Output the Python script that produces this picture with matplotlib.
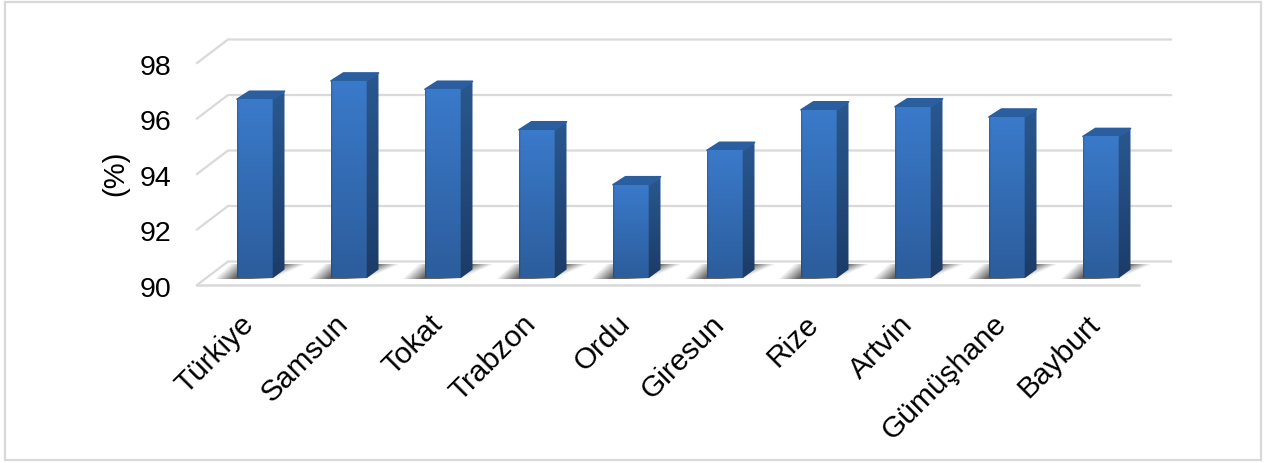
import numpy as np
import matplotlib
matplotlib.use('Agg')
import matplotlib.pyplot as plt
from matplotlib.colors import to_rgb
from matplotlib.patches import Polygon, Rectangle

plt.rcParams['font.family'] = ['Liberation Sans', 'DejaVu Sans']

# Chart values
provinces = ['Türkiye', 'Samsun', 'Tokat', 'Trabzon', 'Ordu', 'Giresun',
             'Rize', 'Artvin', 'Gümüşhane', 'Bayburt']
rates = [96.44, 97.10, 96.80, 95.34, 93.36, 94.60, 96.06, 96.17, 95.80, 95.10]
y_ticks = [90, 92, 94, 96, 98]

# Pixel sizes of one category and one percentage point
W, H = 1268, 464
PX_X = 94.0
PX_Y = 27.75
X0 = 255.0
Y0 = 279.0
BAR_W = 36 / PX_X
DEPTH_X = 11.5 / PX_X
DEPTH_Y = 8.5 / PX_Y
GRID = '#d9d9d9'


def px_dx(p):
    return p / PX_X


def px_dy(p):
    return p / PX_Y


def ramp(top, bottom, n=64):
    top, bottom = np.array(to_rgb(top)), np.array(to_rgb(bottom))
    t = np.linspace(0, 1, n)[:, None]
    return top + (bottom - top) * t


fig = plt.figure(figsize=(W / 100, H / 100), dpi=100, facecolor='white')
ax = fig.add_axes([0, 0, 1, 1])
ax.axis('off')
xlim = (-X0 / PX_X, (W - X0) / PX_X)
ylim = (90 - (H - Y0) / PX_Y, 90 + Y0 / PX_Y)

# Outer frame
fig.add_artist(Rectangle((5 / W, 1 - 461 / H), 1256 / W, 458 / H, transform=fig.transFigure,
                         fill=False, edgecolor=GRID, linewidth=1.6))

# Side wall and back wall grid lines
left_front = px_dx(197 - X0)
left_back = px_dx(228 - X0)
right_back = px_dx(1171 - X0)
right_front = px_dx(1139 - X0)
for v in y_ticks:
    front_y = v - px_dy(7)
    back_y = v + px_dy(16.5)
    ax.plot([left_front, left_back, right_back], [front_y, back_y, back_y],
            color=GRID, lw=1.6, solid_joinstyle='miter', zorder=1)
ax.plot([left_front, right_front], [90 - px_dy(7)] * 2, color=GRID, lw=1.8, zorder=1)

# Floor shadows, then the three faces of every bar
for i, val in enumerate(rates):
    left = i - BAR_W / 2
    right = i + BAR_W / 2

    # shadow fades out towards both slanted ends
    x_px = np.linspace(-40, 80, 240)
    h_px = np.linspace(13, 0, 30)
    xx, hh = np.meshgrid(x_px, h_px)
    left_end = -23 + 16 * hh / 13
    right_end = 36 + 33 * hh / 13
    alpha = np.minimum(np.clip((xx - left_end) / 20, 0, 1), np.clip((right_end - xx) / 22, 0, 1))
    shade = np.zeros((30, 240, 4))
    shade[..., :3] = 0.25
    shade[..., 3] = 0.8 * alpha
    ax.imshow(shade, extent=(left + px_dx(-40), left + px_dx(80), 90 - px_dy(1.5), 90 + px_dy(13)),
              aspect='auto', interpolation='bilinear', zorder=2)

    side = Polygon([(right, 90), (right + DEPTH_X, 90 + DEPTH_Y),
                    (right + DEPTH_X, val + DEPTH_Y - px_dy(1)), (right, val)],
                   facecolor='none', edgecolor='none', zorder=3)
    ax.add_patch(side)
    im = ax.imshow(ramp('#29588f', '#1c3c68')[:, None, :],
                   extent=(right, right + DEPTH_X, 90, val + DEPTH_Y),
                   aspect='auto', zorder=3)
    im.set_clip_path(side)

    ax.add_patch(Polygon([(left, val), (left + px_dx(12.5), val + DEPTH_Y - px_dy(0.5)),
                          (right + DEPTH_X, val + DEPTH_Y - px_dy(0.5)), (right, val)],
                         facecolor='#2a5e9f', edgecolor='#2a5e9f', lw=1.2,
                         joinstyle='round', zorder=4))

bars = ax.bar(range(len(rates)), np.array(rates) - 90, bottom=90, width=BAR_W,
              color='#2f66ab', zorder=5)
for i, (bar, val) in enumerate(zip(bars, rates)):
    # vertical colour run with slightly darker left and right edges
    face = ramp('#3a7aca', '#2c5d9c')[:, None, :] * np.ones((64, 36, 3))
    edge = np.ones(36)
    edge[:2] = [0.86, 0.95]
    edge[-2:] = [1.0, 0.9]
    face = np.clip(face * edge[None, :, None], 0, 1)
    im = ax.imshow(face, extent=(i - BAR_W / 2, i + BAR_W / 2, 90, val), aspect='auto',
                   interpolation='bilinear', zorder=6)
    im.set_clip_path(bar)

# Axis texts
for v in y_ticks:
    ax.text(px_dx(171.5 - X0), v - px_dy(8), str(v), ha='right', va='center_baseline',
            fontsize=20.5, color='black')
ax.text(px_dx(115 - X0), 94 - px_dy(5), '(%)', rotation=90, ha='center', va='center',
        fontsize=21, color='black')
for i, name in enumerate(provinces):
    ax.text(i - px_dx(15), 90 - px_dy(31), name, rotation=45, ha='right', va='top',
            rotation_mode='anchor', fontsize=21.5, color='black')

ax.set_xlim(xlim)
ax.set_ylim(ylim)
fig.savefig('out.png', dpi=100)
